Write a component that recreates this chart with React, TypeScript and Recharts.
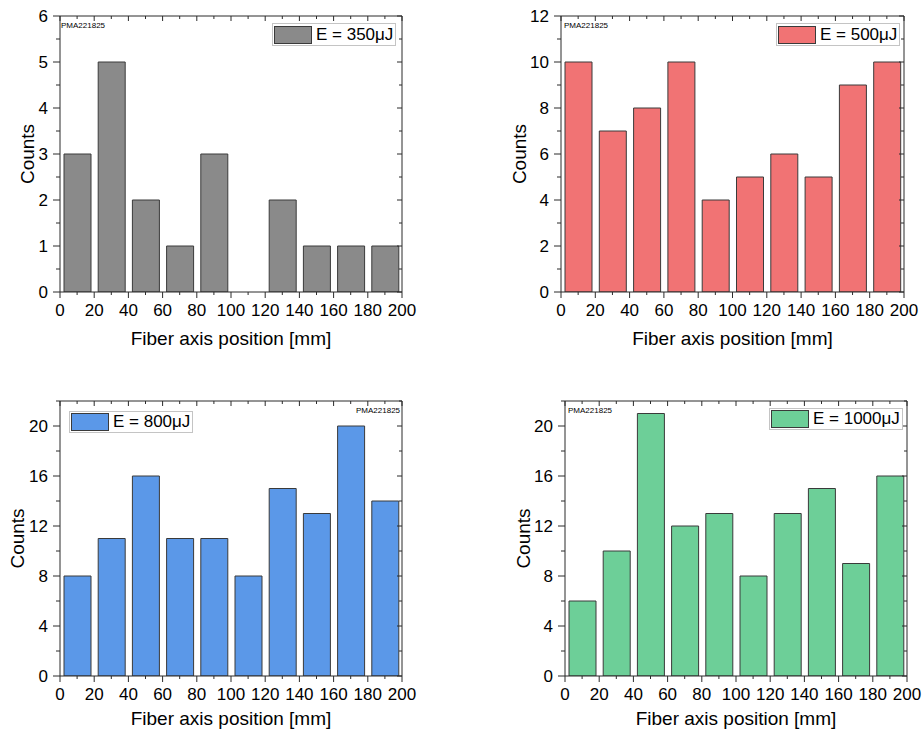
import React from 'react';
import { BarChart, Bar, XAxis, YAxis, Legend } from 'recharts';

// ---------- data ----------
const binCenters = [10, 30, 50, 70, 90, 110, 130, 150, 170, 190];
const counts350 = [3, 5, 2, 1, 3, 0, 2, 1, 1, 1];
const counts500 = [10, 7, 8, 10, 4, 5, 6, 5, 9, 10];
const counts800 = [8, 11, 16, 11, 11, 8, 15, 13, 20, 14];
const counts1000 = [6, 10, 21, 12, 13, 8, 13, 15, 9, 16];

const xMajorTicks = [0, 20, 40, 60, 80, 100, 120, 140, 160, 180, 200];
const xAllTicks = [0, 10, 20, 30, 40, 50, 60, 70, 80, 90, 100, 110, 120, 130, 140, 150, 160, 170, 180, 190, 200];
const yTicks350 = [0, 0.5, 1, 1.5, 2, 2.5, 3, 3.5, 4, 4.5, 5, 5.5, 6];
const yTicks500 = [0, 1, 2, 3, 4, 5, 6, 7, 8, 9, 10, 11, 12];
const yTicks800 = [0, 2, 4, 6, 8, 10, 12, 14, 16, 18, 20, 22];
const yTicks1000 = [0, 2, 4, 6, 8, 10, 12, 14, 16, 18, 20, 22];

const legend350 = 'E = 350μJ';
const legend500 = 'E = 500μJ';
const legend800 = 'E = 800μJ';
const legend1000 = 'E = 1000μJ';
const sampleId = 'PMA221825';
const xTitle = 'Fiber axis position [mm]';
const yTitle = 'Counts';

// ---------- styling ----------
const FONT = '"Liberation Sans", Arial, Helvetica, sans-serif';
const AXIS = '#2b2b2b';

const isMajor = (v: number, step: number) => Math.abs(v / step - Math.round(v / step)) < 1e-6;

type Panel = {
  left: number; top: number; width: number; height: number;
  margin: { top: number; right: number; bottom: number; left: number };
  yAxisWidth: number; xAxisHeight: number;
  titleOffset: number; countsFromAxis: number;
  yMax: number; yTicks: number[]; yMajor: number;
  counts: number[]; color: string; legendText: string;
  legendBox: { left: number; top: number; width: number; height: number };
  pma: { left: number; top: number };
};

const panels: Panel[] = [
  {
    left: 0, top: 0, width: 461, height: 367,
    margin: { top: 16, right: 59, bottom: 0, left: 0 },
    yAxisWidth: 60, xAxisHeight: 75, titleOffset: 22, countsFromAxis: 33,
    yMax: 6, yTicks: yTicks350, yMajor: 1,
    counts: counts350, color: '#8a8a8a', legendText: legend350,
    legendBox: { left: 272, top: 23, width: 124, height: 23 },
    pma: { left: 61, top: 22 },
  },
  {
    left: 461, top: 0, width: 461, height: 367,
    margin: { top: 16, right: 18, bottom: 0, left: 0 },
    yAxisWidth: 100, xAxisHeight: 75, titleOffset: 22, countsFromAxis: 42,
    yMax: 12, yTicks: yTicks500, yMajor: 2,
    counts: counts500, color: '#f17374', legendText: legend500,
    legendBox: { left: 315, top: 23, width: 124, height: 23 },
    pma: { left: 103, top: 22 },
  },
  {
    left: 0, top: 367, width: 461, height: 367,
    margin: { top: 34, right: 59, bottom: 0, left: 0 },
    yAxisWidth: 60, xAxisHeight: 58, titleOffset: 9, countsFromAxis: 43,
    yMax: 22, yTicks: yTicks800, yMajor: 4,
    counts: counts800, color: '#5b98e8', legendText: legend800,
    legendBox: { left: 69, top: 44, width: 124, height: 22 },
    pma: { left: 356, top: 40 },
  },
  {
    left: 461, top: 367, width: 461, height: 367,
    margin: { top: 34, right: 15, bottom: 0, left: 0 },
    yAxisWidth: 104, xAxisHeight: 58, titleOffset: 9, countsFromAxis: 42,
    yMax: 22, yTicks: yTicks1000, yMajor: 4,
    counts: counts1000, color: '#6dcf98', legendText: legend1000,
    legendBox: { left: 308, top: 41, width: 134, height: 22 },
    pma: { left: 107, top: 40 },
  },
];

const BottomTick = (props: any) => {
  const { x, y, payload } = props;
  const v = payload.value;
  const major = isMajor(v, 20);
  return (
    <g>
      <line x1={x} x2={x} y1={y} y2={y + (major ? 6 : 3)} stroke={AXIS} strokeWidth={1} />
      {major && (
        <text x={x} y={y + 24} textAnchor="middle" fontSize={17} fontFamily={FONT} fill="#000">
          {v}
        </text>
      )}
    </g>
  );
};

const TopTick = (props: any) => {
  const { x, y, payload } = props;
  const major = isMajor(payload.value, 20);
  return <line x1={x} x2={x} y1={y} y2={y + (major ? 5 : 3)} stroke={AXIS} strokeWidth={1} />;
};

const makeLeftTick = (step: number) => (props: any) => {
  const { x, y, payload } = props;
  const v = payload.value;
  const major = isMajor(v, step);
  return (
    <g>
      <line x1={x - (major ? 7 : 4)} x2={x} y1={y} y2={y} stroke={AXIS} strokeWidth={1} />
      {major && (
        <text x={x - 12} y={y} dy="0.36em" textAnchor="end" fontSize={17} fontFamily={FONT} fill="#000">
          {v}
        </text>
      )}
    </g>
  );
};

const makeRightTick = (step: number) => (props: any) => {
  const { x, y, payload } = props;
  const major = isMajor(payload.value, step);
  return <line x1={x - (major ? 5 : 3)} x2={x} y1={y} y2={y} stroke={AXIS} strokeWidth={1} />;
};

const PanelChart = ({ p }: { p: Panel }) => {
  const data = binCenters.map((x, i) => ({ x, count: p.counts[i] }));
  return (
    <div style={{ position: 'absolute', left: p.left, top: p.top, width: p.width, height: p.height }}>
      <BarChart width={p.width} height={p.height} data={data} margin={p.margin}>
        <XAxis xAxisId="bar" type="number" dataKey="x" domain={[0, 200]} allowDataOverflow ticks={xMajorTicks} hide />
        <XAxis
          xAxisId="b"
          type="number"
          dataKey="x"
          domain={[0, 200]}
          allowDataOverflow
          ticks={xAllTicks}
          interval={0}
          tickSize={0}
          tickMargin={0}
          tickLine={false}
          tick={BottomTick}
          axisLine={{ stroke: AXIS, strokeWidth: 1 }}
          height={p.xAxisHeight}
          label={{
            content: (lp: any) => {
              const vb = lp.viewBox || {};
              return (
                <text
                  x={vb.x + vb.width / 2}
                  y={vb.y + vb.height - p.titleOffset}
                  textAnchor="middle"
                  fontSize={19}
                  fontFamily={FONT}
                  fill="#000"
                >
                  {xTitle}
                </text>
              );
            },
          }}
        />
        <XAxis
          xAxisId="t"
          orientation="top"
          mirror
          type="number"
          dataKey="x"
          domain={[0, 200]}
          allowDataOverflow
          ticks={xAllTicks}
          interval={0}
          tickSize={0}
          tickMargin={0}
          tickLine={false}
          tick={TopTick}
          axisLine={{ stroke: AXIS, strokeWidth: 1 }}
        />
        <YAxis
          yAxisId="left"
          type="number"
          domain={[0, p.yMax]}
          allowDataOverflow
          ticks={p.yTicks}
          interval={0}
          tickSize={0}
          tickMargin={0}
          tickLine={false}
          tick={makeLeftTick(p.yMajor)}
          axisLine={{ stroke: AXIS, strokeWidth: 1 }}
          width={p.yAxisWidth}
          label={{
            content: (lp: any) => {
              const vb = lp.viewBox || {};
              const cx = vb.x + vb.width - p.countsFromAxis;
              const cy = vb.y + vb.height / 2;
              return (
                <text
                  x={cx}
                  y={cy}
                  dy="0.36em"
                  transform={`rotate(-90 ${cx} ${cy})`}
                  textAnchor="middle"
                  fontSize={19}
                  fontFamily={FONT}
                  fill="#000"
                >
                  {yTitle}
                </text>
              );
            },
          }}
        />
        <YAxis
          yAxisId="right"
          orientation="right"
          mirror
          type="number"
          domain={[0, p.yMax]}
          allowDataOverflow
          ticks={p.yTicks}
          interval={0}
          tickSize={0}
          tickMargin={0}
          tickLine={false}
          tick={makeRightTick(p.yMajor)}
          axisLine={{ stroke: AXIS, strokeWidth: 1 }}
        />
        <Bar
          dataKey="count"
          name={p.legendText}
          xAxisId="bar"
          yAxisId="left"
          fill={p.color}
          stroke="#3a3a3a"
          strokeWidth={1}
          barSize={27}
          isAnimationActive={false}
        />
        <Legend
          layout="vertical"
          align="center"
          verticalAlign="middle"
          wrapperStyle={{ left: 0, top: 0, width: 0, height: 0, overflow: 'visible' }}
          content={() => (
            <div style={{ position: 'relative', width: 0, height: 0 }}>
              <div
                style={{
                  position: 'absolute',
                  left: p.legendBox.left,
                  top: p.legendBox.top,
                  width: p.legendBox.width,
                  height: p.legendBox.height,
                  boxSizing: 'border-box',
                  border: '1px solid #c4c4c4',
                  background: '#fff',
                  display: 'flex',
                  alignItems: 'center',
                  fontFamily: FONT,
                  fontSize: 17,
                  color: '#000',
                  whiteSpace: 'nowrap',
                }}
              >
                <span
                  style={{
                    display: 'inline-block',
                    width: 38,
                    height: 18,
                    boxSizing: 'border-box',
                    background: p.color,
                    border: '1px solid #3a3a3a',
                    marginLeft: 1,
                    marginRight: 4,
                  }}
                />
                <span>{p.legendText}</span>
              </div>
              <div
                style={{
                  position: 'absolute',
                  left: p.pma.left,
                  top: p.pma.top,
                  fontFamily: FONT,
                  fontSize: 8,
                  lineHeight: '8px',
                  color: '#000',
                  whiteSpace: 'nowrap',
                }}
              >
                {sampleId}
              </div>
            </div>
          )}
        />
      </BarChart>
    </div>
  );
};

export default function App() {
  return (
    <div style={{ position: 'absolute', left: 0, top: 0, width: 922, height: 734, background: '#fff' }}>
      {panels.map((p, i) => (
        <PanelChart key={i} p={p} />
      ))}
    </div>
  );
}
